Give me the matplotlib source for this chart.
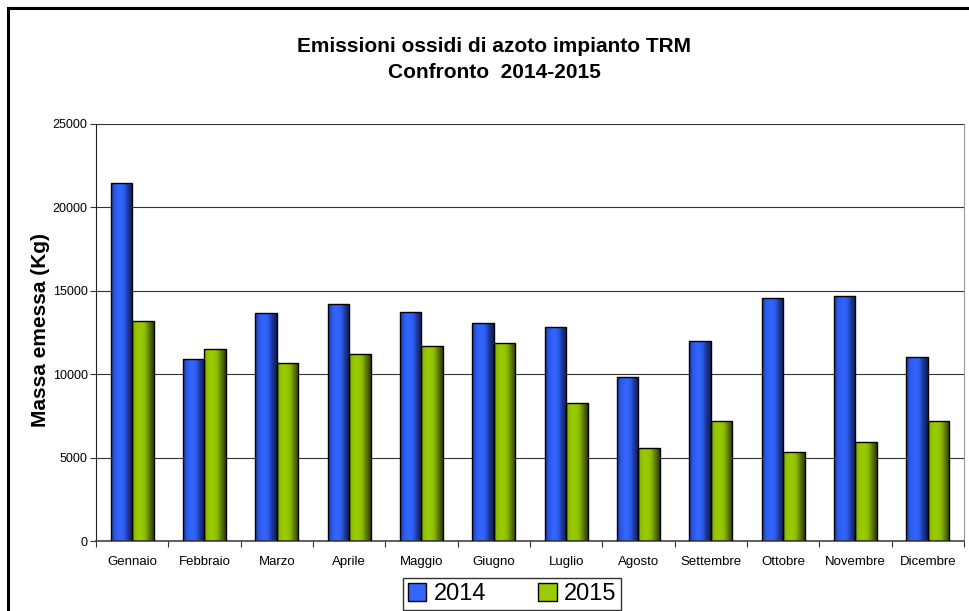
import numpy as np
import matplotlib
matplotlib.use('Agg')
import matplotlib.pyplot as plt
from matplotlib.colors import LinearSegmentedColormap
from matplotlib.patches import Rectangle, Patch

plt.rcParams['font.family'] = ['Liberation Sans', 'DejaVu Sans']

# Data
mesi = ['Gennaio', 'Febbraio', 'Marzo', 'Aprile', 'Maggio', 'Giugno',
        'Luglio', 'Agosto', 'Settembre', 'Ottobre', 'Novembre', 'Dicembre']
emissioni_2014 = [21480, 10940, 13640, 14180, 13700, 13040,
                  12840, 9820, 12020, 14560, 14680, 11030]
emissioni_2015 = [13180, 11500, 10680, 11220, 11720, 11880,
                  8260, 5580, 7180, 5320, 5960, 7180]
anni = ['2014', '2015']

# Gradient colours (cylinder-like shading, as in the original Excel chart)
GRAD = {
    '2014': ['#1d3a9c', '#2d5cf0', '#3366ff', '#2f5ef2', '#1b3590', '#0f1f5a'],
    '2015': ['#7fa800', '#95c800', '#99cc00', '#8cbc00', '#5c7800', '#2e3c00'],
}
BASE = {'2014': '#3366ff', '2015': '#99cc00'}


def shade_bars(ax, bars, colors):
    cmap = LinearSegmentedColormap.from_list('g', colors)
    grad = np.linspace(0, 1, 64).reshape(1, -1)
    for b in bars:
        x0, y0 = b.get_x(), b.get_y()
        w, h = b.get_width(), b.get_height()
        im = ax.imshow(grad, cmap=cmap, aspect='auto', interpolation='bicubic',
                       extent=[x0, x0 + w, y0, y0 + h], zorder=2)
        im.set_clip_path(b)


fig = plt.figure(figsize=(9.7, 6.11), dpi=100)
ax = fig.add_axes([96 / 970, 70 / 611, 868 / 970, 417 / 611])

x = np.arange(len(mesi))
w = 0.295
bars14 = ax.bar(x - w / 2, emissioni_2014, w, color='none',
                edgecolor='black', linewidth=1.0, zorder=3)
bars15 = ax.bar(x + w / 2, emissioni_2015, w, color='none',
                edgecolor='black', linewidth=1.0, zorder=3)
shade_bars(ax, bars14, GRAD['2014'])
shade_bars(ax, bars15, GRAD['2015'])

ax.set_xlim(-0.5, len(mesi) - 0.5)
ax.set_ylim(0, 25000)
ax.set_yticks(np.arange(0, 25001, 5000))
ax.set_xticks(x)
ax.set_xticklabels(mesi, fontsize=9.5, va='baseline')
ax.set_xticks(np.arange(-0.5, len(mesi), 1), minor=True)
ax.tick_params(axis='x', which='major', length=0, pad=17)
ax.tick_params(axis='x', which='minor', length=4, width=0.8, color='#333333')
ax.tick_params(axis='y', length=4.5, width=0.8, labelsize=9, pad=1.5, color='#333333')

ax.yaxis.grid(True, color='#333333', linewidth=0.8, zorder=0)
ax.set_axisbelow(True)
ax.spines['top'].set_visible(False)
ax.spines['left'].set_color('#222222')
ax.spines['bottom'].set_color('#444444')
ax.spines['right'].set_color('#999999')
ax.spines['bottom'].set_linewidth(1.2)

fig.text(41 / 970, 1 - 330 / 611, 'Massa emessa (Kg)', rotation=90,
         ha='center', va='center', fontsize=15, fontweight='bold')

fig.text(494 / 970, 1 - 52 / 611, 'Emissioni ossidi di azoto impianto TRM',
         ha='center', va='baseline', fontsize=15, fontweight='bold')
fig.text(494 / 970, 1 - 78 / 611, 'Confronto  2014-2015',
         ha='center', va='baseline', fontsize=15, fontweight='bold')

handles = [Patch(facecolor=BASE[a], edgecolor='black', linewidth=1.0) for a in anni]
leg = fig.legend(handles, anni, loc='upper center', bbox_to_anchor=(512 / 970, 1 - 578 / 611),
                 ncol=2, fontsize=17, frameon=True, fancybox=False, edgecolor='black',
                 handlelength=0.8, handleheight=0.8, handletextpad=0.3,
                 columnspacing=2.2, borderpad=0.2, borderaxespad=0)
leg.get_frame().set_linewidth(1.0)

# Outer chart frame (only top and left edges are visible in the crop)
fig.patches.append(Rectangle((8 / 970, -0.1), 1.2, (611 - 8) / 611 + 0.1,
                             transform=fig.transFigure, fill=False,
                             edgecolor='black', linewidth=2.2))

fig.savefig('out.png', dpi=100)
